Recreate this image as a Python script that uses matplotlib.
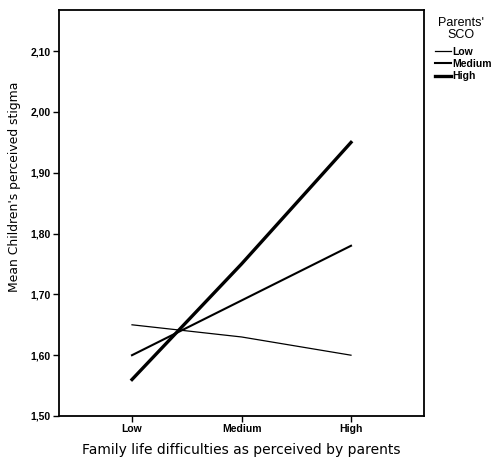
import matplotlib.pyplot as plt
from matplotlib.lines import Line2D

# Data
categories = ['Low', 'Medium', 'High']
sco_groups = ['Low', 'Medium', 'High']
low_sco = [1.65, 1.63, 1.60]
medium_sco = [1.60, 1.69, 1.78]
high_sco = [1.56, 1.75, 1.95]
yticks = [1.50, 1.60, 1.70, 1.80, 1.90, 2.00, 2.10]

plt.rcParams['font.family'] = ['Liberation Sans', 'DejaVu Sans']

fig = plt.figure(figsize=(4.91, 4.59), dpi=100)
ax = fig.add_axes([59 / 491, 1 - 416 / 459, (424 - 59) / 491, (416 - 10) / 459])

x = [1, 2, 3]
widths = [0.9, 1.5, 2.4]
for vals, lw in zip([low_sco, medium_sco, high_sco], widths):
    ax.plot(x, vals, color='black', linewidth=lw)

ax.set_xlim(1 - 2 / 3, 3 + 2 / 3)
ax.set_ylim(1.50, 1.50 + (416 - 10) / 608)
ax.set_xticks(x)
ax.set_xticklabels(categories, fontsize=7.5, fontweight='bold')
ax.set_yticks(yticks)
ax.set_yticklabels([('%.2f' % v).replace('.', ',') for v in yticks], fontsize=7.5, fontweight='bold')
ax.tick_params(direction='out', length=4, width=1, color='black', pad=2)
for s in ax.spines.values():
    s.set_linewidth(1.3)

ax.set_xlabel('Family life difficulties as perceived by parents',
              fontdict={'family': 'DejaVu Sans', 'size': 10}, labelpad=6)
ax.set_ylabel("Mean Children's perceived stigma",
              fontdict={'family': 'DejaVu Sans', 'size': 8.9})
ax.yaxis.set_label_coords(-0.104, 0.564)

# Legend
fig.text(461 / 491, 1 - 29 / 459, "Parents'\nSCO", ha='center', va='center',
         fontsize=9, linespacing=1.0)
handles = [Line2D([0], [0], color='black', linewidth=lw) for lw in widths]
fig.legend(handles, sco_groups, loc='upper left', bbox_to_anchor=(435 / 491, 1 - 47 / 459),
           frameon=False, prop={'size': 7.5, 'weight': 'bold'}, handlelength=1.5,
           handletextpad=0.2, labelspacing=0.2, borderpad=0, borderaxespad=0)

fig.savefig('out.png', dpi=100)
